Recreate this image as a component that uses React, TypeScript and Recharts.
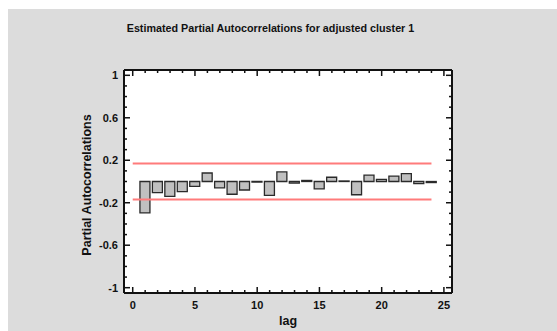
import React from "react";
import {
  ComposedChart,
  Bar,
  XAxis,
  YAxis,
  CartesianGrid,
  ReferenceLine,
} from "recharts";

// lags and estimated partial autocorrelations
const lags = [1, 2, 3, 4, 5, 6, 7, 8, 9, 10, 11, 12, 13, 14, 15, 16, 17, 18, 19, 20, 21, 22, 23, 24];
const pacf = [
  -0.295, -0.105, -0.14, -0.095, -0.045, 0.08, -0.06, -0.12, -0.08, -0.005, -0.13, 0.09,
  -0.015, 0.01, -0.07, 0.04, 0.005, -0.125, 0.06, 0.02, 0.05, 0.075, -0.02, -0.01,
];

// 95% probability limits
const upperLimit = 0.17;
const lowerLimit = -0.17;
const limitLags = [0, 24];

const xMajorTicks = [0, 5, 10, 15, 20, 25];
const xTicks = [0, 1, 2, 3, 4, 5, 6, 7, 8, 9, 10, 11, 12, 13, 14, 15, 16, 17, 18, 19, 20, 21, 22, 23, 24, 25];
const yMajorTicks = [-1, -0.6, -0.2, 0.2, 0.6, 1];
const yTicks = [
  -1, -0.9, -0.8, -0.7, -0.6, -0.5, -0.4, -0.3, -0.2, -0.1, 0, 0.1, 0.2, 0.3, 0.4, 0.5, 0.6, 0.7,
  0.8, 0.9, 1,
];

const data = lags.map((lag, i) => ({ lag, pacf: pacf[i] }));

const FONT = "'Liberation Sans', Arial, sans-serif";
const isMajor = (list: number[], v: number) => list.some((m) => Math.abs(m - v) < 1e-6);

// inward tick marks, labels only on the major ticks
const makeTick =
  (side: "left" | "right" | "top" | "bottom", majors: number[], showLabel: boolean) =>
  (props: any) => {
    const { x, y, payload } = props;
    const major = isMajor(majors, payload.value);
    const len = major ? 6 : 3;
    let line;
    if (side === "left") line = <line x1={x} y1={y} x2={x + len} y2={y} />;
    else if (side === "right") line = <line x1={x} y1={y} x2={x - len} y2={y} />;
    else if (side === "top") line = <line x1={x} y1={y} x2={x} y2={y + len} />;
    else line = <line x1={x} y1={y} x2={x} y2={y - len} />;
    return (
      <g stroke="#111" strokeWidth={1.5}>
        {line}
        {showLabel && major && (
          <text
            x={side === "left" ? x - 6 : x}
            y={side === "left" ? y + 4 : y + 16}
            textAnchor={side === "left" ? "end" : "middle"}
            stroke="none"
            fill="#111"
            fontFamily={FONT}
            fontWeight="bold"
            fontSize={11}
          >
            {payload.value}
          </text>
        )}
      </g>
    );
  };

export default function App() {
  return (
    <div
      style={{
        position: "absolute",
        left: 0,
        top: 0,
        width: 557,
        height: 331,
        background: "#fff",
        overflow: "hidden",
      }}
    >
      <div
        style={{
          position: "absolute",
          left: 8,
          top: 9,
          width: 549,
          height: 322,
          background: "#dcdcdc",
        }}
      />
      <div
        style={{
          position: "absolute",
          left: 0,
          width: 557,
          top: 22,
          textAlign: "center",
          fontFamily: FONT,
          fontWeight: "bold",
          fontSize: 10.75,
          color: "#111",
          transform: "translateX(-8px)",
        }}
      >
        Estimated Partial Autocorrelations for adjusted cluster 1
      </div>
      <div
        style={{
          position: "absolute",
          left: 87,
          top: 185,
          transform: "translate(-50%, -50%) rotate(-90deg)",
          whiteSpace: "nowrap",
          fontFamily: FONT,
          fontWeight: "bold",
          fontSize: 12.5,
          color: "#111",
        }}
      >
        Partial Autocorrelations
      </div>
      <div
        style={{
          position: "absolute",
          left: 288,
          top: 321,
          transform: "translate(-50%, -50%)",
          fontFamily: FONT,
          fontWeight: "bold",
          fontSize: 12.5,
          color: "#111",
        }}
      >
        lag
      </div>
      <div style={{ position: "absolute", left: 0, top: 0 }}>
        <ComposedChart
          width={557}
          height={331}
          data={data}
          margin={{ top: 60, right: 95, bottom: 8, left: 84 }}
        >
          <CartesianGrid fill="#fff" stroke="none" horizontal={false} vertical={false} />
          <XAxis
            xAxisId="b"
            dataKey="lag"
            type="number"
            orientation="bottom"
            domain={[-0.7, 25.65]}
            allowDataOverflow
            ticks={xTicks}
            interval={0}
            height={30}
            tickSize={0}
            tickMargin={0}
            tickLine={false}
            axisLine={{ stroke: "#111", strokeWidth: 2 }}
            tick={makeTick("bottom", xMajorTicks, true)}
          />
          <XAxis
            xAxisId="t"
            dataKey="lag"
            type="number"
            orientation="top"
            domain={[-0.7, 25.65]}
            allowDataOverflow
            ticks={xTicks}
            interval={0}
            height={10}
            tickSize={0}
            tickMargin={0}
            tickLine={false}
            axisLine={{ stroke: "#111", strokeWidth: 2 }}
            tick={makeTick("top", xMajorTicks, false)}
          />
          <YAxis
            yAxisId="l"
            orientation="left"
            type="number"
            domain={[-1.05, 1.05]}
            allowDataOverflow
            ticks={yTicks}
            interval={0}
            width={40}
            tickSize={0}
            tickMargin={0}
            tickLine={false}
            axisLine={{ stroke: "#111", strokeWidth: 2 }}
            tick={makeTick("left", yMajorTicks, true)}
          />
          <YAxis
            yAxisId="r"
            orientation="right"
            type="number"
            domain={[-1.05, 1.05]}
            allowDataOverflow
            ticks={yTicks}
            interval={0}
            width={10}
            tickSize={0}
            tickMargin={0}
            tickLine={false}
            axisLine={{ stroke: "#111", strokeWidth: 2 }}
            tick={makeTick("right", yMajorTicks, false)}
          />
          <ReferenceLine
            xAxisId="b"
            yAxisId="l"
            segment={[
              { x: limitLags[0], y: upperLimit },
              { x: limitLags[1], y: upperLimit },
            ]}
            stroke="#ff7b7b"
            strokeWidth={2}
          />
          <ReferenceLine
            xAxisId="b"
            yAxisId="l"
            segment={[
              { x: limitLags[0], y: lowerLimit },
              { x: limitLags[1], y: lowerLimit },
            ]}
            stroke="#ff7b7b"
            strokeWidth={2}
          />
          <Bar
            xAxisId="b"
            yAxisId="l"
            dataKey="pacf"
            barSize={10}
            fill="#c0c0c0"
            stroke="#2a2a2a"
            strokeWidth={1.3}
            isAnimationActive={false}
          />
        </ComposedChart>
      </div>
    </div>
  );
}
